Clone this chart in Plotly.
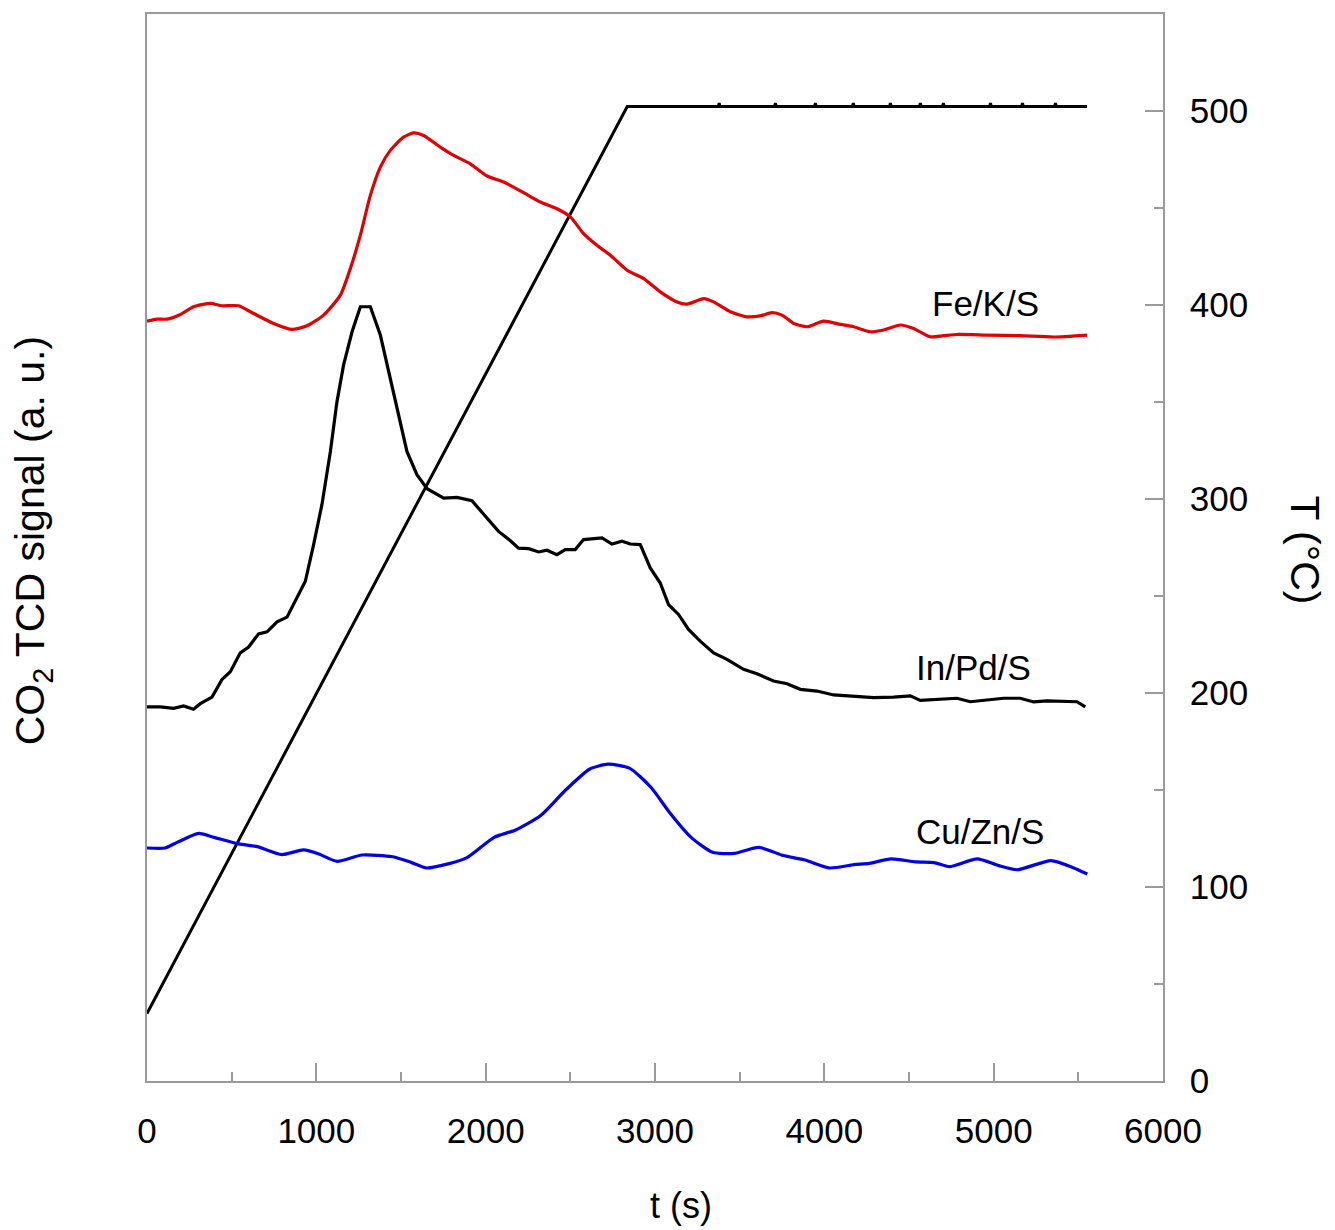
import plotly.graph_objects as go

# ---------------- data ----------------
# Fe/K/S (red)
t_fe = [0, 59, 118, 197, 275, 373, 443, 541, 630, 748, 856, 945, 1043, 1142, 1201, 1260, 1319, 1378,
        1437, 1515, 1574, 1633, 1732, 1811, 1909, 2008, 2106, 2224, 2323, 2421, 2500, 2578, 2657, 2736,
        2835, 2933, 3031, 3130, 3189, 3287, 3346, 3445, 3543, 3622, 3691, 3750, 3819, 3898, 3996, 4094,
        4173, 4271, 4350, 4449, 4527, 4626, 4704, 4784, 4961, 5157, 5354, 5551]
s_fe = [391.7, 392.7, 392.7, 395.1, 399.1, 400.8, 399.6, 399.6, 395.6, 390.5, 387.4, 389.3, 394.8, 405.1,
        418.8, 436.0, 456.5, 471.1, 479.7, 486.5, 488.7, 487.4, 481.4, 477.1, 472.8, 466.5, 463.4, 457.9,
        453.1, 449.6, 445.4, 436.8, 430.8, 425.7, 417.9, 413.6, 406.8, 401.6, 400.5, 403.3, 401.6, 396.5,
        393.9, 394.4, 396.1, 394.8, 390.5, 388.8, 391.7, 390.0, 388.8, 386.2, 387.1, 389.7, 387.9, 383.6,
        384.2, 384.8, 384.5, 384.2, 383.5, 384.5]

# In/Pd/S (black)
t_in = [0, 79, 157, 216, 275, 315, 384, 443, 492, 551, 600, 659, 709, 768, 827, 886, 935, 984, 1033,
        1083, 1122, 1161, 1211, 1260, 1319, 1378, 1437, 1486, 1535, 1594, 1654, 1752, 1831, 1919, 1988,
        2076, 2146, 2194, 2254, 2313, 2362, 2421, 2470, 2529, 2578, 2687, 2746, 2805, 2854, 2913, 2972,
        3031, 3080, 3139, 3198, 3267, 3346, 3425, 3523, 3602, 3700, 3780, 3858, 3957, 4055, 4173, 4291,
        4409, 4508, 4567, 4685, 4783, 4862, 4961, 5059, 5157, 5236, 5315, 5413, 5492, 5541]
s_in = [192.8, 192.8, 192.1, 193.3, 191.6, 194.5, 197.9, 207.0, 211.0, 220.7, 223.7, 230.5, 231.5, 236.7,
        239.1, 249.0, 257.6, 276.5, 297.1, 324.5, 350.2, 369.1, 386.2, 399.1, 399.1, 384.5, 362.2, 343.4,
        324.5, 312.5, 305.3, 300.5, 300.8, 299.1, 292.2, 283.3, 278.5, 274.7, 274.4, 272.7, 273.6, 271.3,
        273.9, 273.9, 279.1, 279.9, 276.8, 278.2, 276.8, 276.5, 264.5, 256.7, 245.6, 240.5, 232.8, 226.7,
        220.7, 217.3, 212.2, 209.9, 206.2, 204.8, 201.9, 201.0, 199.0, 198.5, 197.6, 197.9, 198.5, 196.2,
        196.8, 197.3, 195.5, 196.6, 197.3, 197.3, 195.4, 195.9, 195.9, 195.5, 192.8]

# Cu/Zn/S (blue)
t_cu = [0, 106, 178, 306, 396, 542, 651, 796, 924, 1015, 1123, 1269, 1450, 1560, 1651, 1778, 1887, 2050,
        2177, 2323, 2468, 2613, 2722, 2849, 2977, 3086, 3213, 3340, 3467, 3613, 3758, 3885, 4031, 4176,
        4267, 4394, 4540, 4648, 4739, 4903, 5030, 5139, 5339, 5466, 5553]
s_cu = [120.1, 120.1, 123.0, 127.6, 125.6, 122.2, 120.8, 116.7, 119.1, 117.0, 113.2, 116.5, 115.6, 112.7,
        109.8, 111.9, 115.0, 125.6, 129.4, 136.7, 149.6, 160.7, 163.3, 161.3, 151.3, 138.4, 125.6, 117.9,
        117.3, 120.4, 116.2, 113.9, 109.8, 111.5, 112.2, 114.5, 112.9, 112.6, 110.5, 114.5, 111.0, 108.9,
        113.6, 110.1, 106.7]

# Temperature ramp (black)
t_T = [0, 2836, 3374, 3379, 3384, 3706, 3711, 3716, 3942, 3947, 3952, 4166, 4171, 4176, 4385, 4390, 4395,
       4562, 4567, 4572, 4698, 4703, 4708, 4976, 4981, 4986, 5165, 5170, 5175, 5360, 5365, 5370, 5551]
T = [34.8, 502.3, 502.3, 504.0, 502.3, 502.3, 504.0, 502.3, 502.3, 504.0, 502.3, 502.3, 504.0, 502.3,
     502.3, 504.0, 502.3, 502.3, 504.0, 502.3, 502.3, 504.0, 502.3, 502.3, 504.0, 502.3, 502.3, 504.0,
     502.3, 502.3, 504.0, 502.3, 502.3]

x_ticks = [0, 1000, 2000, 3000, 4000, 5000, 6000]
y_ticks = [0, 100, 200, 300, 400, 500]

# ---------------- figure ----------------
FONT = "Liberation Sans, Arial, sans-serif"
AX = "#9a9a9a"

fig = go.Figure()
fig.add_trace(go.Scatter(x=t_T, y=T, mode="lines", line=dict(color="black", width=3), showlegend=False))
fig.add_trace(go.Scatter(x=t_fe, y=s_fe, mode="lines", line=dict(color="#e00000", width=3.2, shape="spline", smoothing=0.6), showlegend=False))
fig.add_trace(go.Scatter(x=t_in, y=s_in, mode="lines", line=dict(color="black", width=3.2), showlegend=False))
fig.add_trace(go.Scatter(x=t_cu, y=s_cu, mode="lines", line=dict(color="#0000e0", width=3.2, shape="spline", smoothing=0.6), showlegend=False))

fig.update_layout(
    width=1335, height=1230,
    margin=dict(l=147, r=172, t=12, b=149),
    paper_bgcolor="white", plot_bgcolor="white",
    font=dict(family=FONT, size=35, color="black"),
    xaxis=dict(range=[0, 6000], tickvals=x_ticks, ticks="inside", ticklen=18, tickwidth=1.5,
               tickcolor=AX, showline=True, linecolor=AX, linewidth=1.5, mirror=True,
               showgrid=False, zeroline=False, ticklabelstandoff=18,
               minor=dict(dtick=500, ticks="inside", ticklen=9, tickwidth=1.5, tickcolor=AX, showgrid=False),
               tickfont=dict(size=35)),
    yaxis=dict(range=[0, 550], side="right", tickvals=y_ticks, ticks="inside", ticklen=18, tickwidth=1.5,
               tickcolor=AX, showline=True, linecolor=AX, linewidth=1.5, mirror=True,
               showgrid=False, zeroline=False, ticklabelstandoff=18,
               minor=dict(dtick=50, ticks="inside", ticklen=9, tickwidth=1.5, tickcolor=AX, showgrid=False),
               tickfont=dict(size=35)),
)

annots = [
    dict(text="t (s)", x=(681 - 147) / 1016, xref="paper", y=-0.117, yref="paper",
         showarrow=False, font=dict(size=36), xanchor="center", yanchor="middle"),
    dict(text="CO<sub>2</sub> TCD signal (a. u.)", x=-0.112, xref="paper", y=0.506, yref="paper",
         textangle=-90, showarrow=False, font=dict(size=41), xanchor="center", yanchor="middle"),
    dict(text="T (°C)", x=1.14, xref="paper", y=0.498, yref="paper",
         textangle=90, showarrow=False, font=dict(size=41), xanchor="center", yanchor="middle"),
    dict(text="Fe/K/S", x=4951, y=401, xref="x", yref="y", showarrow=False, font=dict(size=35),
         xanchor="center", yanchor="middle"),
    dict(text="In/Pd/S", x=4882, y=212.9, xref="x", yref="y", showarrow=False, font=dict(size=35),
         xanchor="center", yanchor="middle"),
    dict(text="Cu/Zn/S", x=4918, y=128.5, xref="x", yref="y", showarrow=False, font=dict(size=35),
         xanchor="center", yanchor="middle"),
]
fig.update_layout(annotations=annots)

fig.write_html("out.html")
